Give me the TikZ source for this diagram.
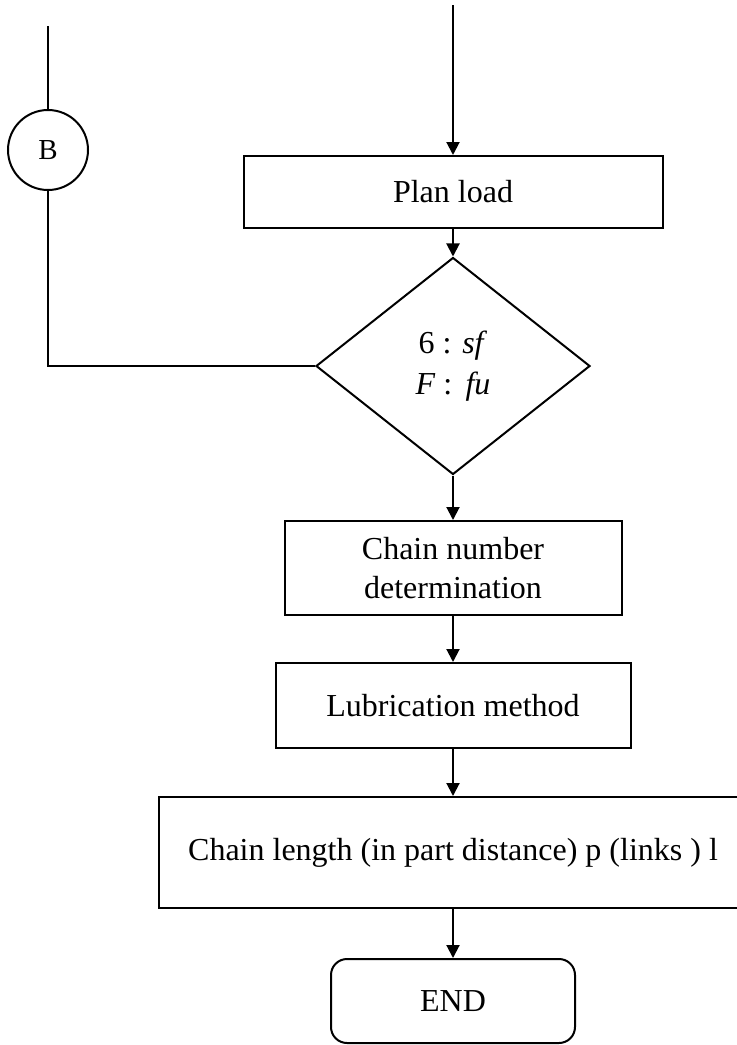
\documentclass[tikz,border=0pt]{standalone}
\usepackage{fontspec}
\setmainfont{Liberation Serif}
\usetikzlibrary{shapes.geometric,arrows.meta}

\begin{document}
\begin{tikzpicture}[
  x=0.5pt, y=-0.5pt,
  every node/.style={font=\fontsize{16}{19.5}\selectfont},
  block/.style={rectangle, draw, line width=1pt, align=center, inner sep=0pt},
  decision/.style={diamond, draw, line width=1pt, align=center, inner sep=0pt,
    minimum width=137pt, minimum height=108.5pt},
  connector/.style={circle, draw, line width=1pt, minimum size=40pt, inner sep=0pt,
    font=\fontsize{14.5}{17}\selectfont},
  arrow/.style={-{Triangle[length=6.5pt,width=6.5pt]}, line width=1pt},
  line/.style={line width=1pt},
]
\useasboundingbox (0,0) rectangle (737,1045);

% off-page connector and loop
\coordinate (btop) at (48,26);
\node[connector] (conB) at (48,150) {B};

% main column
\coordinate (entry) at (453,5);
\node[block, minimum width=209.5pt, minimum height=36pt] (plan) at (453,192) {Plan load};
\node[decision] (check) at (453,366) {6 : \textit{sf}\\[1pt]\textit{F} :\, \textit{fu}};
\node[block, minimum width=168.5pt, minimum height=47pt] (chainno) at (453,568) {Chain number\\determination};
\node[block, minimum width=177.5pt, minimum height=42.5pt] (lub) at (453,705.5) {Lubrication method};
\node[block, minimum width=294pt, minimum height=55.5pt] (length) at (453,852.5) {Chain length (in part distance) p (links ) l};
\node[block, rounded corners=8pt, minimum width=122pt, minimum height=42pt] (stop) at (453,1001) {END};

\draw[arrow] (entry) -- (plan);
\draw[arrow] (plan) -- (check);
\draw[arrow] (check) -- (chainno);
\draw[arrow] (chainno) -- (lub);
\draw[arrow] (lub) -- (length);
\draw[arrow] (length) -- (stop);

\draw[line] (btop) -- (conB);
\draw[line] (conB) |- (check.west);
\end{tikzpicture}
\end{document}
